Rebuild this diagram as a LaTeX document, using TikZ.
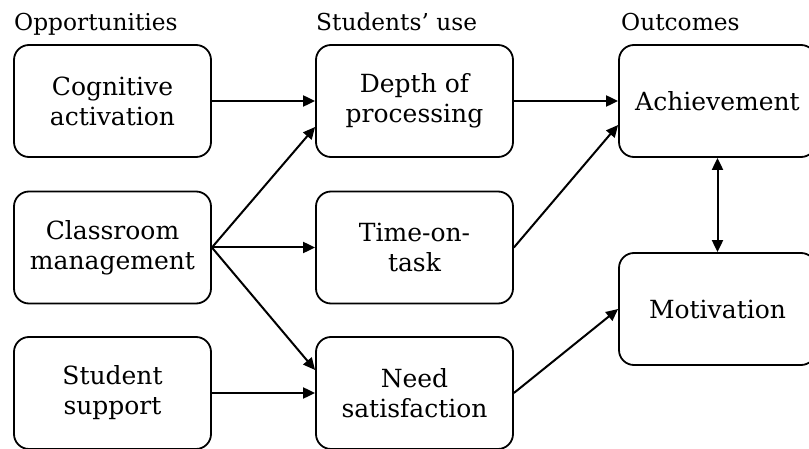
\documentclass[tikz,border=0pt]{standalone}
\usepackage{fontspec}
\setmainfont{DejaVu Serif}
\usetikzlibrary{arrows.meta}
\begin{document}
\begin{tikzpicture}[x=1pt,y=-1pt,
  box/.style={draw, line width=1.8pt, rounded corners=15pt, minimum width=197pt, minimum height=112pt, inner sep=0pt, align=center, font=\fontsize{25}{30}\selectfont},
  head/.style={anchor=base west, inner sep=0pt, font=\fontsize{23.3}{26}\selectfont},
  conn/.style={line width=2pt, -{Triangle[length=12pt,width=11pt]}},
  bconn/.style={line width=2pt, {Triangle[length=12pt,width=11pt]}-{Triangle[length=12pt,width=11pt]}}]
\useasboundingbox (0,0) rectangle (809,449);
\clip (0,0) rectangle (809,449);
\node[head] (h1) at (14,31) {Opportunities};
\node[head] (h2) at (316,31) {Students’ use};
\node[head] (h3) at (621,31) {Outcomes};
\node[box] (cog) at (112.5,101) {Cognitive\\activation};
\node[box] (cls) at (112.5,247.5) {Classroom\\management};
\node[box] (sup) at (112.5,393) {Student\\support};
\node[box] (dep) at (414.5,101) {Depth of\\processing};
\node[box] (tim) at (414.5,247.5) {Time-on-\\task};
\node[box] (ned) at (414.5,393) {Need\\satisfaction};
\node[box] (ach) at (717.5,101) {Achievement};
\node[box] (mot) at (717.5,309) {Motivation};
\draw[conn] (cog.east) -- (dep.west);
\draw[conn] (cls.east) -- ([yshift=-26pt]dep.west);
\draw[conn] (cls.east) -- (tim.west);
\draw[conn] (cls.east) -- ([yshift=23pt]ned.west);
\draw[conn] (sup.east) -- (ned.west);
\draw[conn] (dep.east) -- (ach.west);
\draw[conn] (tim.east) -- ([yshift=-24pt]ach.west);
\draw[conn] (ned.east) -- (mot.west);
\draw[bconn] (ach.south) -- (mot.north);
\end{tikzpicture}
\end{document}
